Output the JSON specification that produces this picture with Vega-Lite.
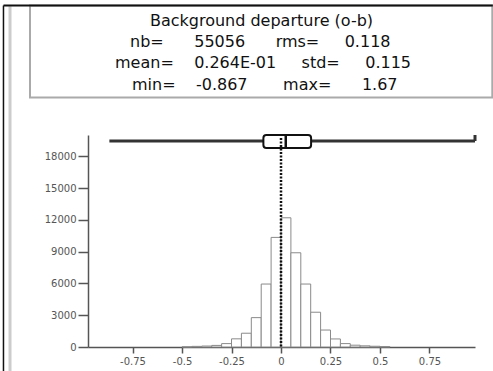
{
  "$schema": "https://vega.github.io/schema/vega-lite/v6.json",
  "width": 387,
  "height": 212,
  "autosize": {"type": "none"},
  "padding": {"left": 88, "right": 18, "top": 135, "bottom": 24},
  "background": "white",
  "config": {"view": {"stroke": null}},
  "datasets": {
    "hist": [
      {"bin_start": -0.5, "bin_end": -0.45, "count": 20},
      {"bin_start": -0.45, "bin_end": -0.4, "count": 60},
      {"bin_start": -0.4, "bin_end": -0.35, "count": 90},
      {"bin_start": -0.35, "bin_end": -0.3, "count": 150},
      {"bin_start": -0.3, "bin_end": -0.25, "count": 320},
      {"bin_start": -0.25, "bin_end": -0.2, "count": 770},
      {"bin_start": -0.2, "bin_end": -0.15, "count": 1300},
      {"bin_start": -0.15, "bin_end": -0.1, "count": 2770},
      {"bin_start": -0.1, "bin_end": -0.05, "count": 5940},
      {"bin_start": -0.05, "bin_end": 0, "count": 10340},
      {"bin_start": 0, "bin_end": 0.05, "count": 12190},
      {"bin_start": 0.05, "bin_end": 0.1, "count": 8890},
      {"bin_start": 0.1, "bin_end": 0.15, "count": 5940},
      {"bin_start": 0.15, "bin_end": 0.2, "count": 3280},
      {"bin_start": 0.2, "bin_end": 0.25, "count": 1600},
      {"bin_start": 0.25, "bin_end": 0.3, "count": 760},
      {"bin_start": 0.3, "bin_end": 0.35, "count": 320},
      {"bin_start": 0.35, "bin_end": 0.4, "count": 170},
      {"bin_start": 0.4, "bin_end": 0.45, "count": 110},
      {"bin_start": 0.45, "bin_end": 0.5, "count": 70},
      {"bin_start": 0.5, "bin_end": 0.55, "count": 40}
    ],
    "stats": [
      {"min": -0.867, "q1": -0.089, "median": 0.024, "q3": 0.152, "max": 1.67}
    ],
    "header": [
      {"row": 1, "text": "Background departure (o-b)"},
      {"row": 2, "text": "nb=\u00a0\u00a0\u00a0\u00a0\u00a0\u00a055056\u00a0\u00a0\u00a0\u00a0\u00a0\u00a0rms=\u00a0\u00a0\u00a0\u00a0\u00a00.118"},
      {"row": 3, "text": "mean=\u00a0\u00a0\u00a0\u00a00.264E-01\u00a0\u00a0\u00a0\u00a0\u00a0std=\u00a0\u00a0\u00a0\u00a0\u00a00.115"},
      {"row": 4, "text": "min=\u00a0\u00a0\u00a0\u00a0-0.867\u00a0\u00a0\u00a0\u00a0\u00a0\u00a0\u00a0max=\u00a0\u00a0\u00a0\u00a0\u00a0\u00a01.67"}
    ],
    "one": [{}]
  },
  "layer": [
    {
      "data": {"name": "one"},
      "mark": {"type": "rect", "filled": false, "stroke": "#aaaaaa", "strokeWidth": 2},
      "encoding": {"x": {"datum": -1.268}, "x2": {"datum": 1.0674}, "y": {"datum": 32217}, "y2": {"datum": 23538}}
    },
    {
      "data": {"name": "one"},
      "mark": {"type": "rule", "stroke": "#cccccc", "strokeWidth": 3},
      "encoding": {"x": {"datum": -1.369}, "y": {"datum": 32150}, "y2": {"datum": -3000}}
    },
    {
      "data": {"name": "one"},
      "mark": {"type": "rule", "stroke": "#111", "strokeWidth": 2},
      "encoding": {"x": {"datum": -1.402}, "x2": {"datum": 1.07}, "y": {"datum": 32217}}
    },
    {
      "data": {"name": "one"},
      "mark": {"type": "rule", "stroke": "#111", "strokeWidth": 1.5},
      "encoding": {"x": {"datum": -1.402}, "y": {"datum": 32217}, "y2": {"datum": -3000}}
    },
    {
      "data": {"name": "hist"},
      "mark": {"type": "bar", "fill": "white", "stroke": "#8a8a8a", "strokeWidth": 1},
      "encoding": {
        "x": {
          "field": "bin_start", "type": "quantitative",
          "scale": {"domain": [-0.975, 0.98], "nice": false, "zero": false},
          "axis": {
            "title": null, "grid": false,
            "values": [-0.75, -0.5, -0.25, 0, 0.25, 0.5, 0.75],
            "tickCount": 12,
            "labelExpr": "'' + datum.value",
            "domainColor": "#555", "domainWidth": 1.5,
            "tickColor": "#555", "tickWidth": 1.5, "tickSize": 6,
            "labelColor": "#555", "labelFont": "DejaVu Sans", "labelFontSize": 10,
            "labelPadding": 3, "labelOverlap": false
          }
        },
        "x2": {"field": "bin_end"},
        "y": {
          "field": "count", "type": "quantitative",
          "scale": {"domain": [0, 20000], "nice": false},
          "axis": {
            "title": null, "grid": false,
            "values": [0, 3000, 6000, 9000, 12000, 15000, 18000],
            "tickCount": 12,
            "format": "d",
            "domainColor": "#555", "domainWidth": 1.5,
            "tickColor": "#555", "tickWidth": 1.5, "tickSize": 10,
            "labelColor": "#555", "labelFont": "DejaVu Sans", "labelFontSize": 10,
            "labelPadding": 2, "labelOverlap": false
          }
        },
        "y2": {"datum": 0}
      }
    },
    {
      "data": {"name": "header"},
      "transform": [{"filter": "datum.row == 1"}],
      "mark": {"type": "text", "font": "DejaVu Sans", "fontSize": 16, "color": "#111", "align": "center", "baseline": "alphabetic"},
      "encoding": {"x": {"datum": -0.0985}, "y": {"datum": 30283}, "text": {"field": "text"}}
    },
    {
      "data": {"name": "header"},
      "transform": [{"filter": "datum.row == 2"}],
      "mark": {"type": "text", "font": "DejaVu Sans", "fontSize": 16, "color": "#111", "align": "left", "baseline": "alphabetic"},
      "encoding": {"x": {"datum": -0.7628}, "y": {"datum": 28330}, "text": {"field": "text"}}
    },
    {
      "data": {"name": "header"},
      "transform": [{"filter": "datum.row == 3"}],
      "mark": {"type": "text", "font": "DejaVu Sans", "fontSize": 16, "color": "#111", "align": "left", "baseline": "alphabetic"},
      "encoding": {"x": {"datum": -0.8386}, "y": {"datum": 26292}, "text": {"field": "text"}}
    },
    {
      "data": {"name": "header"},
      "transform": [{"filter": "datum.row == 4"}],
      "mark": {"type": "text", "font": "DejaVu Sans", "fontSize": 16, "color": "#111", "align": "left", "baseline": "alphabetic"},
      "encoding": {"x": {"datum": -0.7527}, "y": {"datum": 24245}, "text": {"field": "text"}}
    },
    {
      "data": {"name": "stats"},
      "mark": {"type": "rule", "stroke": "#333", "strokeWidth": 3, "clip": true},
      "encoding": {
        "x": {"field": "min", "type": "quantitative", "title": null},
        "x2": {"field": "max"},
        "y": {"datum": 19434}
      }
    },
    {
      "data": {"name": "one"},
      "mark": {"type": "rule", "stroke": "#333", "strokeWidth": 3},
      "encoding": {"x": {"datum": 0.98}, "y": {"datum": 19434}, "y2": {"datum": 20000}}
    },
    {
      "data": {"name": "stats"},
      "mark": {"type": "rect", "fill": "white", "stroke": "#111", "strokeWidth": 2, "cornerRadius": 3},
      "encoding": {
        "x": {"field": "q1", "type": "quantitative", "title": null},
        "x2": {"field": "q3"},
        "y": {"datum": 20000},
        "y2": {"datum": 18774}
      }
    },
    {
      "data": {"name": "stats"},
      "mark": {"type": "rule", "stroke": "#111", "strokeWidth": 2.5},
      "encoding": {
        "x": {"field": "median", "type": "quantitative", "title": null},
        "y": {"datum": 20000},
        "y2": {"datum": 18774}
      }
    },
    {
      "data": {"name": "one"},
      "mark": {"type": "rule", "stroke": "#111", "strokeWidth": 2.5, "strokeDash": [2, 1.5]},
      "encoding": {"x": {"datum": 0}, "y": {"datum": 19717}, "y2": {"datum": 0}}
    }
  ]
}
